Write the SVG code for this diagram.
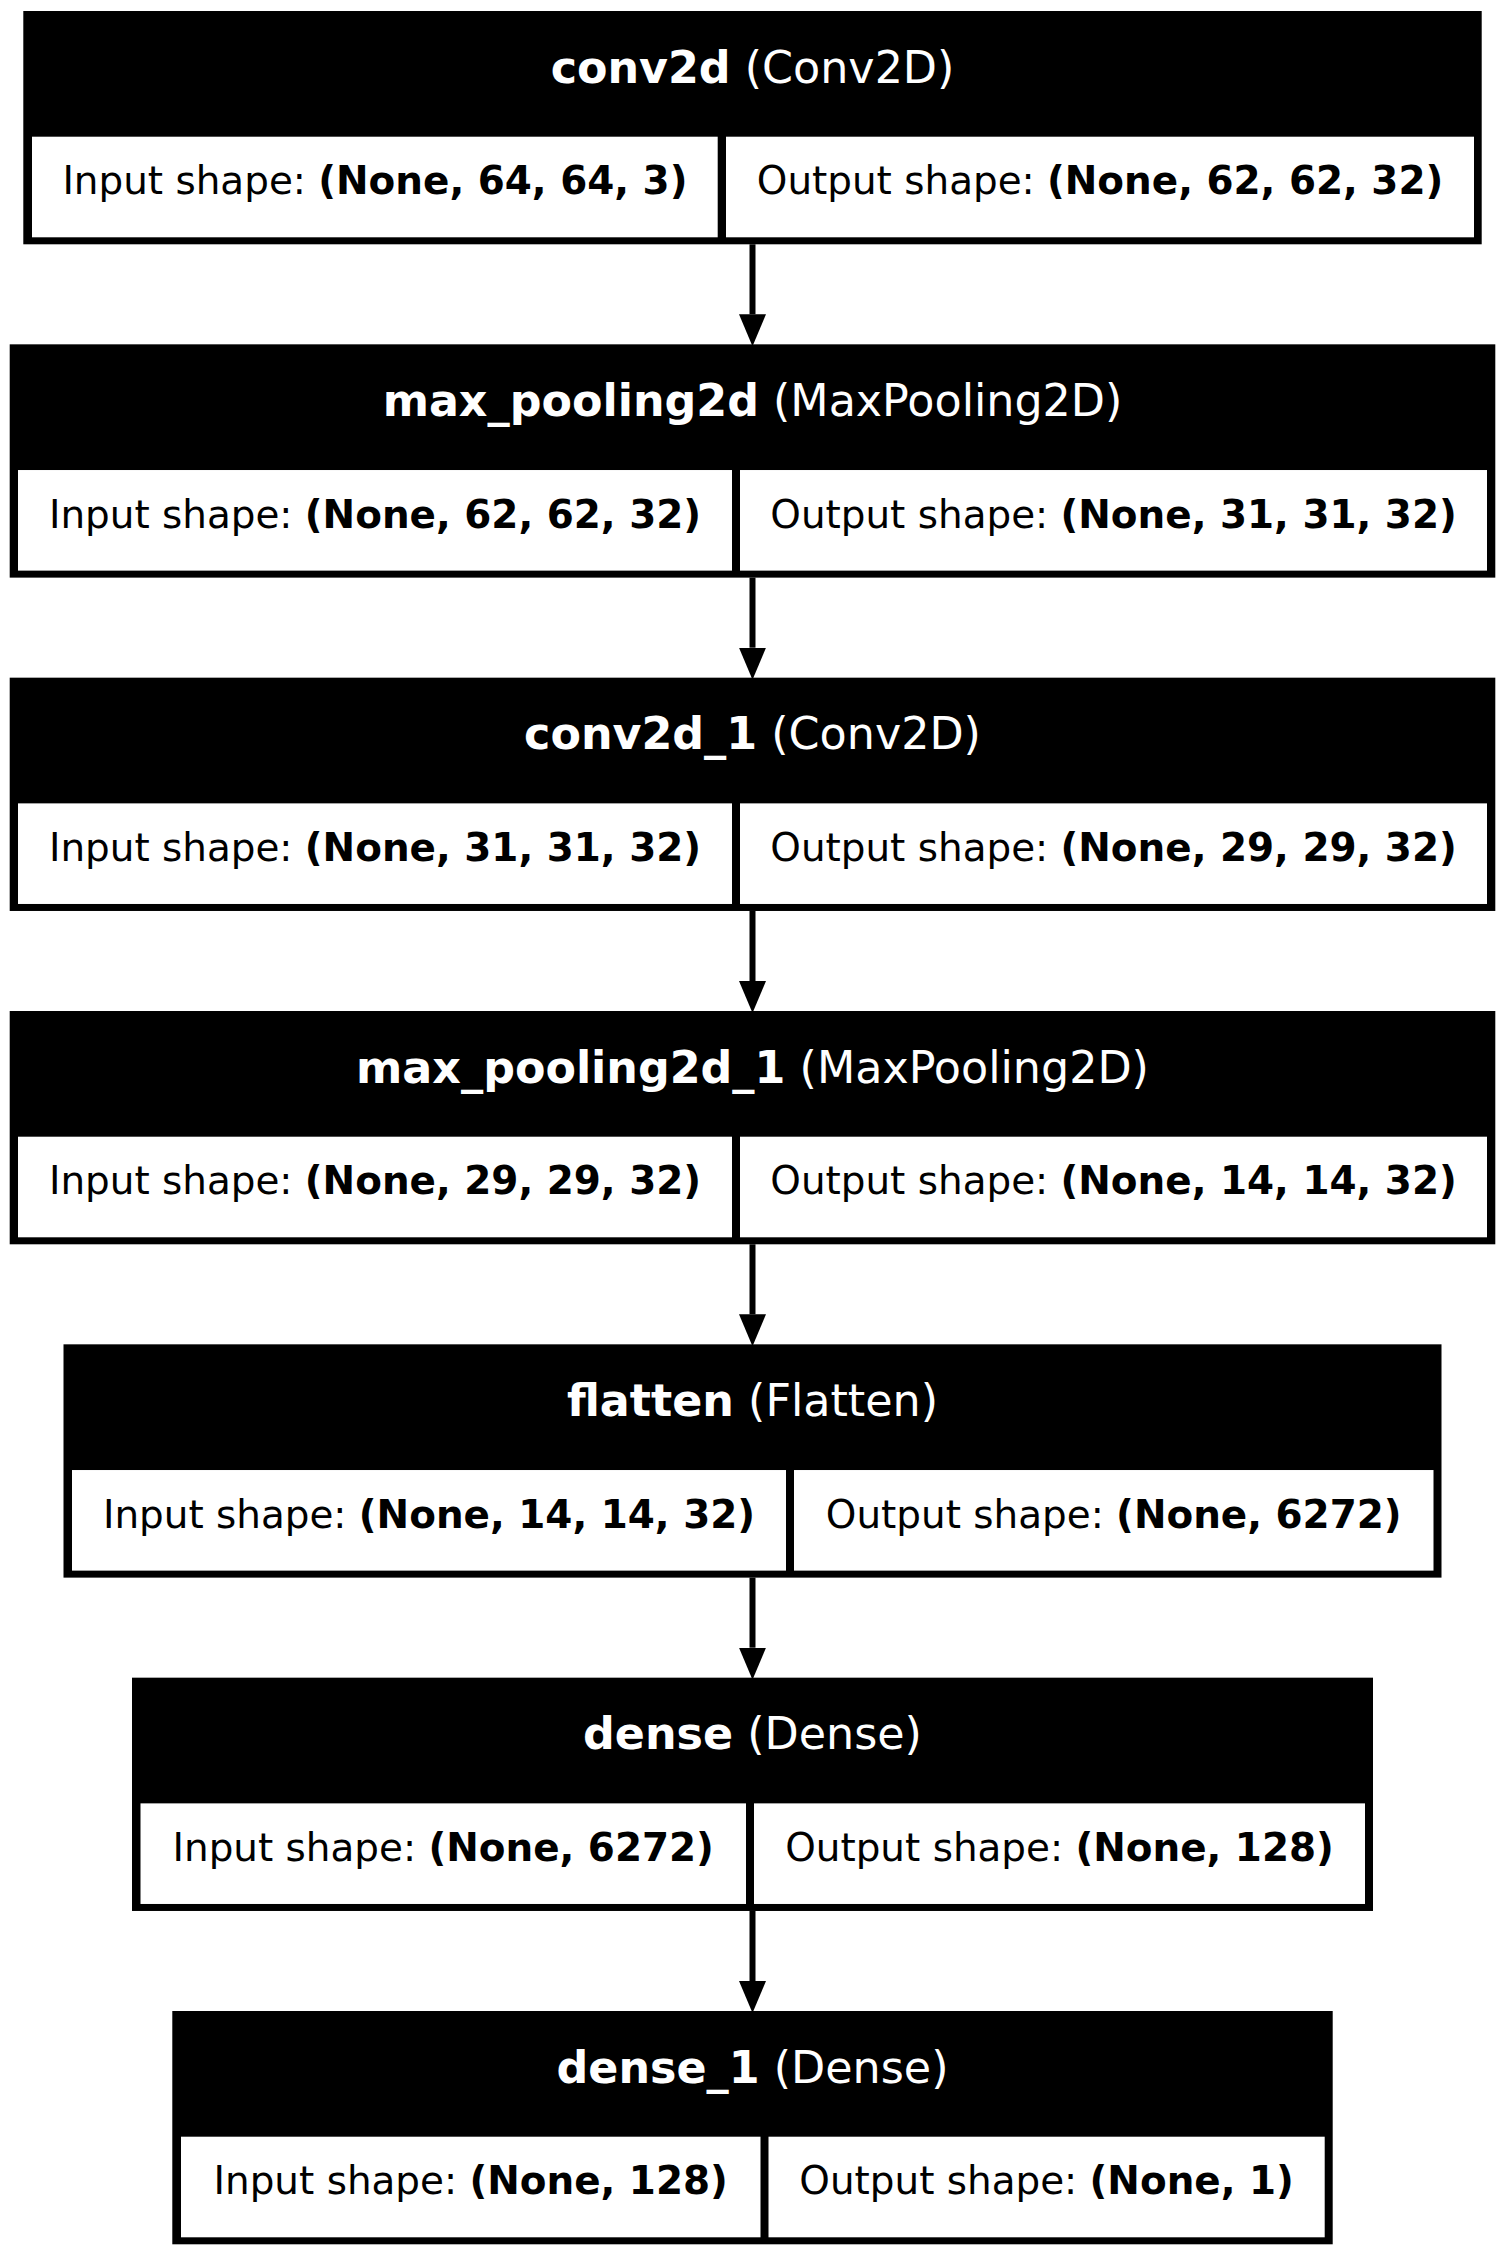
<svg xmlns="http://www.w3.org/2000/svg" width="1506" height="2256" viewBox="0 0 1506 2256">
<style>
.outer{fill:#000;stroke:none}
.cell{fill:#fff;stroke:none}
.hd{font-family:"DejaVu Sans","Liberation Sans",sans-serif;font-size:44.4px;fill:#fff;text-anchor:middle}
.tx{font-family:"DejaVu Sans","Liberation Sans",sans-serif;font-size:38.9px;fill:#000;text-anchor:middle}
.b{font-weight:bold}
.edge{stroke:#000;stroke-width:6;fill:none}
</style>
<defs>
<marker id="arr" markerUnits="userSpaceOnUse" markerWidth="32" markerHeight="28" refX="0" refY="13.5" orient="auto">
<path d="M0,0 L32,13.5 L0,27 z" fill="#000"/>
</marker>
</defs>
<rect width="1506" height="2256" fill="#fff"/>
<g id="connectors">
<path class="edge" d="M752.5,244.3 V314.3" marker-end="url(#arr)"/>
<path class="edge" d="M752.5,577.6 V647.7" marker-end="url(#arr)"/>
<path class="edge" d="M752.5,911 V981" marker-end="url(#arr)"/>
<path class="edge" d="M752.5,1244.3 V1314.3" marker-end="url(#arr)"/>
<path class="edge" d="M752.5,1577.6 V1647.7" marker-end="url(#arr)"/>
<path class="edge" d="M752.5,1911 V1981" marker-end="url(#arr)"/>
</g>
<g id="conv2d" transform="translate(0,11)">
<rect class="outer" x="23.3" y="0" width="1458.4" height="233.3"/>
<rect class="cell" x="32" y="125.7" width="685.7" height="100.6"/>
<rect class="cell" x="726" y="125.7" width="748" height="100.6"/>
<text class="hd" x="752.5" y="71.5"><tspan class="b">conv2d</tspan> (Conv2D)</text>
<text class="tx" x="374.9" y="183.3">Input shape: <tspan class="b">(None, 64, 64, 3)</tspan></text>
<text class="tx" x="1100" y="183.3">Output shape: <tspan class="b">(None, 62, 62, 32)</tspan></text>
</g>
<g id="max_pooling2d" transform="translate(0,344.33)">
<rect class="outer" x="9.7" y="0" width="1485.6" height="233.3"/>
<rect class="cell" x="18" y="125.7" width="714" height="100.6"/>
<rect class="cell" x="740" y="125.7" width="747" height="100.6"/>
<text class="hd" x="752.5" y="71.5"><tspan class="b">max_pooling2d</tspan> (MaxPooling2D)</text>
<text class="tx" x="375" y="183.3">Input shape: <tspan class="b">(None, 62, 62, 32)</tspan></text>
<text class="tx" x="1113.5" y="183.3">Output shape: <tspan class="b">(None, 31, 31, 32)</tspan></text>
</g>
<g id="conv2d_1" transform="translate(0,677.67)">
<rect class="outer" x="9.7" y="0" width="1485.6" height="233.3"/>
<rect class="cell" x="18" y="125.7" width="714" height="100.6"/>
<rect class="cell" x="740" y="125.7" width="747" height="100.6"/>
<text class="hd" x="752.5" y="71.5"><tspan class="b">conv2d_1</tspan> (Conv2D)</text>
<text class="tx" x="375" y="183.3">Input shape: <tspan class="b">(None, 31, 31, 32)</tspan></text>
<text class="tx" x="1113.5" y="183.3">Output shape: <tspan class="b">(None, 29, 29, 32)</tspan></text>
</g>
<g id="max_pooling2d_1" transform="translate(0,1011)">
<rect class="outer" x="9.7" y="0" width="1485.6" height="233.3"/>
<rect class="cell" x="18" y="125.7" width="714" height="100.6"/>
<rect class="cell" x="740" y="125.7" width="747" height="100.6"/>
<text class="hd" x="752.5" y="71.5"><tspan class="b">max_pooling2d_1</tspan> (MaxPooling2D)</text>
<text class="tx" x="375" y="183.3">Input shape: <tspan class="b">(None, 29, 29, 32)</tspan></text>
<text class="tx" x="1113.5" y="183.3">Output shape: <tspan class="b">(None, 14, 14, 32)</tspan></text>
</g>
<g id="flatten" transform="translate(0,1344.33)">
<rect class="outer" x="63.5" y="0" width="1378" height="233.3"/>
<rect class="cell" x="72" y="125.7" width="714" height="100.6"/>
<rect class="cell" x="794" y="125.7" width="639.5" height="100.6"/>
<text class="hd" x="752.5" y="71.5"><tspan class="b">flatten</tspan> (Flatten)</text>
<text class="tx" x="429" y="183.3">Input shape: <tspan class="b">(None, 14, 14, 32)</tspan></text>
<text class="tx" x="1113.7" y="183.3">Output shape: <tspan class="b">(None, 6272)</tspan></text>
</g>
<g id="dense" transform="translate(0,1677.67)">
<rect class="outer" x="132" y="0" width="1241" height="233.3"/>
<rect class="cell" x="140.5" y="125.7" width="605.5" height="100.6"/>
<rect class="cell" x="754" y="125.7" width="611" height="100.6"/>
<text class="hd" x="752.5" y="71.5"><tspan class="b">dense</tspan> (Dense)</text>
<text class="tx" x="443.2" y="183.3">Input shape: <tspan class="b">(None, 6272)</tspan></text>
<text class="tx" x="1059.5" y="183.3">Output shape: <tspan class="b">(None, 128)</tspan></text>
</g>
<g id="dense_1" transform="translate(0,2011)">
<rect class="outer" x="172.3" y="0" width="1160.4" height="233.3"/>
<rect class="cell" x="181" y="125.7" width="579.5" height="100.6"/>
<rect class="cell" x="768.5" y="125.7" width="556.2" height="100.6"/>
<text class="hd" x="752.5" y="71.5"><tspan class="b">dense_1</tspan> (Dense)</text>
<text class="tx" x="470.7" y="183.3">Input shape: <tspan class="b">(None, 128)</tspan></text>
<text class="tx" x="1046.6" y="183.3">Output shape: <tspan class="b">(None, 1)</tspan></text>
</g>
</svg>
